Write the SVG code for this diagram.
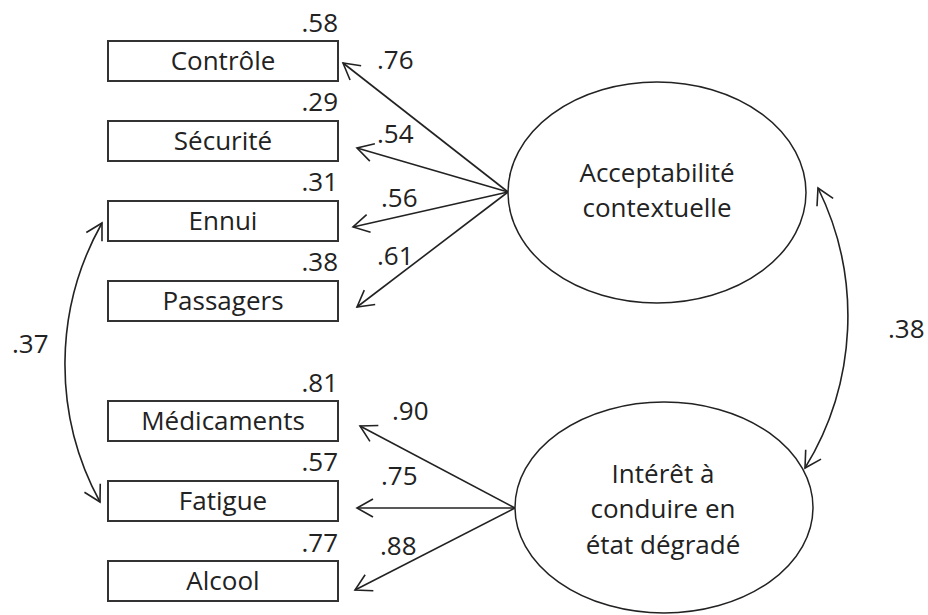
<svg xmlns="http://www.w3.org/2000/svg" width="928" height="615" viewBox="0 0 928 615">
<defs>
<style>
text{font-family:"Open Sans","Liberation Sans",sans-serif;font-size:26px;fill:#222}
.lbl{text-anchor:middle}
.val{text-anchor:end}
.box{fill:#fff;stroke:#333;stroke-width:2}
.lat{fill:#fff;stroke:#222;stroke-width:1.5}
.c{fill:none;stroke:#222;stroke-width:1.6;marker-end:url(#ah)}
.d{marker-start:url(#ah)}
</style>
<marker id="ah" viewBox="-20 -12 24 24" refX="0" refY="0" markerWidth="24" markerHeight="24" markerUnits="userSpaceOnUse" orient="auto-start-reverse">
<path d="M-16,-9 L0,0 L-16,9" fill="none" stroke="#222" stroke-width="1.6"/>
</marker>
</defs>
<rect width="928" height="615" fill="#fff"/>
<g id="connectors">
<line class="c" x1="508" y1="192" x2="343" y2="63"/>
<line class="c" x1="508" y1="192" x2="357" y2="148"/>
<line class="c" x1="508" y1="192" x2="353" y2="227"/>
<line class="c" x1="508" y1="192" x2="357" y2="307"/>
<line class="c" x1="515" y1="508" x2="360" y2="426"/>
<line class="c" x1="515" y1="508" x2="357" y2="508"/>
<line class="c" x1="515" y1="508" x2="355" y2="590"/>
<path class="c d" d="M102,223 A288,288 0 0 0 100,502"/>
<path class="c d" d="M818,188 A290,290 0 0 1 805,468"/>
<text x="377" y="69">.76</text>
<text x="377" y="143">.54</text>
<text x="381" y="207">.56</text>
<text x="377" y="265">.61</text>
<text x="392" y="420">.90</text>
<text x="381" y="485">.75</text>
<text x="380" y="555">.88</text>
<text x="12" y="353">.37</text>
<text x="888" y="338">.38</text>
</g>
<g id="controle"><rect class="box" x="108" y="41" width="230" height="40"/><text class="lbl" x="223" y="70">Contrôle</text><text class="val" x="338" y="32">.58</text></g>
<g id="securite"><rect class="box" x="108" y="121" width="230" height="40"/><text class="lbl" x="223" y="150">Sécurité</text><text class="val" x="338" y="111">.29</text></g>
<g id="ennui"><rect class="box" x="108" y="201" width="230" height="40"/><text class="lbl" x="223" y="230">Ennui</text><text class="val" x="338" y="191">.31</text></g>
<g id="passagers"><rect class="box" x="108" y="281" width="230" height="40"/><text class="lbl" x="223" y="310">Passagers</text><text class="val" x="338" y="271">.38</text></g>
<g id="medicaments"><rect class="box" x="108" y="401" width="230" height="40"/><text class="lbl" x="223" y="430">Médicaments</text><text class="val" x="338" y="392">.81</text></g>
<g id="fatigue"><rect class="box" x="108" y="481" width="230" height="40"/><text class="lbl" x="223" y="510">Fatigue</text><text class="val" x="338" y="471">.57</text></g>
<g id="alcool"><rect class="box" x="108" y="561" width="230" height="40"/><text class="lbl" x="223" y="590">Alcool</text><text class="val" x="338" y="552">.77</text></g>
<g id="acceptabilite"><ellipse class="lat" cx="657" cy="192.5" rx="149" ry="110.5"/><text class="lbl" x="657" y="182">Acceptabilité</text><text class="lbl" x="657" y="217">contextuelle</text></g>
<g id="interet"><ellipse class="lat" cx="664" cy="507.5" rx="149" ry="105.5"/><text class="lbl" x="663" y="483">Intérêt à</text><text class="lbl" x="663" y="518">conduire en</text><text class="lbl" x="663" y="554">état dégradé</text></g>
</svg>
